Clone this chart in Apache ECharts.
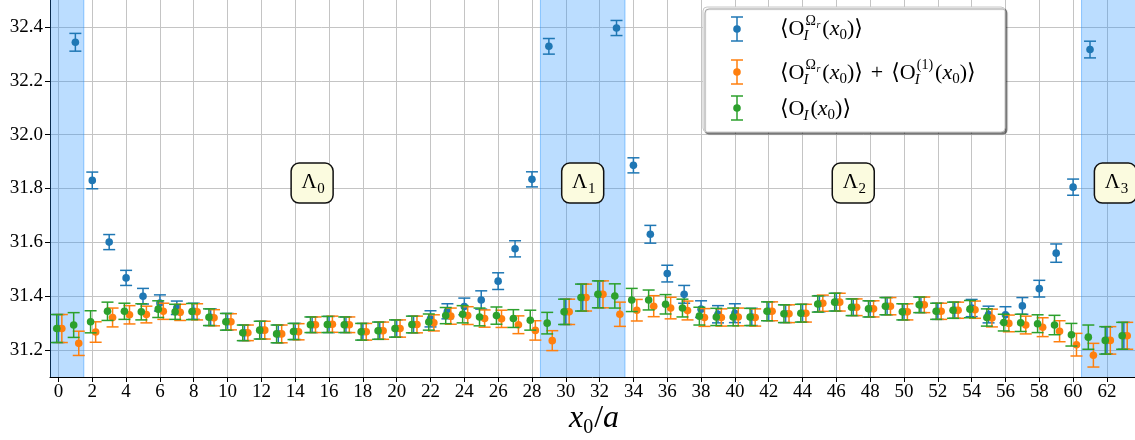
<!DOCTYPE html>
<html><head><meta charset="utf-8">
<script src="https://cdn.jsdelivr.net/npm/echarts@6/dist/echarts.min.js"></script>
<style>html,body{margin:0;padding:0;background:#fff}#c{width:1135px;height:440px}</style>
</head><body><div id="c"></div>
<script>
const xValues = [0,1,2,3,4,5,6,7,8,9,10,11,12,13,14,15,16,17,18,19,20,21,22,23,24,25,26,27,28,29,30,31,32,33,34,35,36,37,38,39,40,41,42,43,44,45,46,47,48,49,50,51,52,53,54,55,56,57,58,59,60,61,62,63];

const blueY = [31.28,32.343,31.83,31.601,31.468,31.40,31.375,31.357,31.344,31.322,
  31.305,31.264,31.274,31.26,31.269,31.294,31.295,31.294,31.268,31.272,
  31.28,31.295,31.316,31.344,31.362,31.386,31.456,31.576,31.834,32.328,
  31.342,31.395,31.407,32.396,31.886,31.63,31.484,31.407,31.352,31.333,
  31.337,31.323,31.344,31.335,31.337,31.372,31.378,31.359,31.353,31.363,
  31.342,31.368,31.344,31.348,31.356,31.332,31.331,31.364,31.428,31.56,
  31.805,32.316,31.236,31.253];
const blueErr = [0.052,0.033,0.031,0.028,0.028,0.029,0.03,0.025,0.03,0.031,
  0.031,0.029,0.033,0.033,0.03,0.029,0.03,0.029,0.031,0.032,
  0.032,0.031,0.03,0.028,0.031,0.034,0.031,0.03,0.028,0.029,
  0.047,0.05,0.05,0.028,0.028,0.033,0.031,0.033,0.031,0.032,
  0.035,0.032,0.035,0.033,0.033,0.03,0.033,0.031,0.03,0.032,
  0.03,0.029,0.03,0.03,0.032,0.031,0.03,0.031,0.031,0.034,
  0.03,0.031,0.05,0.05];

const orangeY = [31.28,31.225,31.267,31.321,31.331,31.332,31.344,31.34,31.342,31.32,
  31.305,31.264,31.274,31.26,31.268,31.294,31.296,31.294,31.268,31.272,
  31.28,31.295,31.301,31.326,31.328,31.317,31.316,31.294,31.273,31.235,
  31.342,31.395,31.407,31.333,31.348,31.363,31.356,31.347,31.321,31.321,
  31.323,31.321,31.344,31.335,31.337,31.374,31.378,31.359,31.353,31.363,
  31.342,31.368,31.344,31.348,31.35,31.319,31.299,31.293,31.285,31.27,
  31.22,31.181,31.236,31.253];
const orangeErr = [0.052,0.045,0.038,0.035,0.034,0.031,0.03,0.03,0.03,0.03,
  0.03,0.029,0.033,0.033,0.03,0.029,0.03,0.029,0.031,0.032,
  0.032,0.031,0.03,0.03,0.033,0.032,0.032,0.033,0.036,0.037,
  0.047,0.05,0.05,0.045,0.04,0.039,0.04,0.035,0.033,0.032,
  0.033,0.032,0.035,0.033,0.033,0.03,0.033,0.031,0.03,0.032,
  0.03,0.029,0.03,0.03,0.032,0.033,0.031,0.033,0.035,0.039,
  0.042,0.044,0.051,0.05];

const greenY = [31.28,31.293,31.305,31.344,31.344,31.342,31.352,31.342,31.343,31.322,
  31.305,31.264,31.274,31.26,31.269,31.294,31.295,31.294,31.268,31.272,
  31.28,31.295,31.304,31.328,31.333,31.323,31.328,31.317,31.311,31.30,
  31.342,31.395,31.407,31.401,31.386,31.386,31.37,31.356,31.326,31.323,
  31.323,31.323,31.344,31.335,31.337,31.371,31.378,31.359,31.353,31.363,
  31.342,31.368,31.344,31.348,31.352,31.321,31.302,31.301,31.298,31.293,
  31.257,31.248,31.236,31.253];
const greenErr = [0.052,0.046,0.041,0.034,0.03,0.03,0.031,0.028,0.03,0.031,
  0.031,0.029,0.033,0.033,0.03,0.029,0.03,0.029,0.031,0.032,
  0.032,0.031,0.03,0.03,0.032,0.033,0.032,0.033,0.037,0.04,
  0.047,0.05,0.05,0.045,0.043,0.037,0.036,0.033,0.033,0.032,
  0.033,0.032,0.035,0.033,0.033,0.03,0.033,0.031,0.03,0.032,
  0.03,0.029,0.03,0.03,0.032,0.032,0.031,0.032,0.033,0.036,
  0.042,0.045,0.051,0.05];

const xTickValues = [0,2,4,6,8,10,12,14,16,18,20,22,24,26,28,30,32,34,36,38,40,42,44,46,48,50,52,54,56,58,60,62];
const yTickValues = [31.2,31.4,31.6,31.8,32.0,32.2,32.4];
const regionStart = [-1.5, 28.5, 60.5];
const regionEnd = [1.5, 33.5, 64.5];
const regionLabelX = [15, 31, 47, 62.5];
const regionLabelSub = ['0','1','2','3'];
const regionLabelY = 31.82;

const SERIF = '"Liberation Serif", "DejaVu Serif", serif';
const COLORS = {blue:'#1f77b4', orange:'#ff7f0e', green:'#2ca02c'};

const chart = echarts.init(document.getElementById('c'), null, {renderer:'canvas'});

function errSeries(name, ys, errs, color, dx, z){
  return {
    type:'custom', name, z, clip:true,
    data: xValues.map((x,i)=>[x, ys[i], errs[i]]),
    encode:{x:0, y:1},
    renderItem(params, api){
      const x = api.value(0)+dx, y = api.value(1), e = api.value(2);
      const p = api.coord([x,y]), hi = api.coord([x,y+e]), lo = api.coord([x,y-e]);
      const cw = 6;
      const ls = {stroke:color, lineWidth:1.5};
      return {type:'group', children:[
        {type:'line', shape:{x1:p[0],y1:hi[1],x2:p[0],y2:lo[1]}, style:ls},
        {type:'line', shape:{x1:p[0]-cw,y1:hi[1],x2:p[0]+cw,y2:hi[1]}, style:ls},
        {type:'line', shape:{x1:p[0]-cw,y1:lo[1],x2:p[0]+cw,y2:lo[1]}, style:ls},
        {type:'circle', shape:{cx:p[0],cy:p[1],r:3.8}, style:{fill:color}}
      ]};
    }
  };
}

const regionSeries = {
  type:'custom', name:'regions', z:1, clip:true, silent:true,
  data: regionStart.map((s,i)=>[s, regionEnd[i]]),
  encode:{x:[0,1]},
  renderItem(params, api){
    const a = api.coord([api.value(0), 31.1]);
    const b = api.coord([api.value(1), 32.5]);
    const edge = {stroke:'rgba(30,144,255,0.45)', lineWidth:1};
    return {type:'group', children:[
      {type:'rect', shape:{x:a[0], y:b[1], width:b[0]-a[0], height:a[1]-b[1]}, style:{fill:'rgba(30,144,255,0.3)'}},
      {type:'line', shape:{x1:a[0],y1:b[1],x2:a[0],y2:a[1]}, style:edge},
      {type:'line', shape:{x1:b[0],y1:b[1],x2:b[0],y2:a[1]}, style:edge}
    ]};
  }
};

const labelSeries = {
  type:'custom', name:'labels', z:10, clip:false, silent:true,
  data: regionLabelX.map((x,i)=>[x, regionLabelY, i]),
  encode:{x:0, y:1},
  renderItem(params, api){
    const p = api.coord([api.value(0), api.value(1)]);
    const i = api.value(2);
    return {type:'group', children:[
      {type:'rect', shape:{x:p[0]-21, y:p[1]-20, width:42, height:40, r:8},
        style:{fill:'#fbfbdf', stroke:'#111', lineWidth:1.5}},
      {type:'text', x:p[0]-3, y:p[1]-1, style:{text:'Λ', font:'21px '+SERIF, fill:'#000', align:'center', verticalAlign:'middle'}},
      {type:'text', x:p[0]+9, y:p[1]+6, style:{text:regionLabelSub[i], font:'15px '+SERIF, fill:'#000', align:'center', verticalAlign:'middle'}}
    ]};
  }
};

// ---- math-like text helper for legend / axis title
const mctx = document.createElement('canvas').getContext('2d');
function fontStr(s,i){ return (i?'italic ':'')+s+'px '+SERIF; }
function tw(t,s,i){ mctx.font = fontStr(s,i); return mctx.measureText(t).width; }
function txt(t,s,i,x,base){
  return {type:'text', x:x, y:base-0.33*s, z:100,
    style:{text:t, font:fontStr(s,i), fill:'#000', align:'left', verticalAlign:'middle'}};
}
function rowWidth(items){
  let w=0;
  for(const it of items){
    if(it.stack){ let m=0; for(const s of it.stack) m=Math.max(m,(s.dx||0)+tw(s.t,s.s,s.i)); w+=m+(it.after||0); }
    else w+=(it.dx||0)+tw(it.t,it.s,it.i)+(it.after||0);
  }
  return w;
}
function mathRow(items, x, base){
  const els=[]; let cx=x;
  for(const it of items){
    if(it.stack){
      let m=0;
      for(const s of it.stack){ els.push(txt(s.t,s.s,s.i,cx+(s.dx||0),base+(s.dy||0))); m=Math.max(m,(s.dx||0)+tw(s.t,s.s,s.i)); }
      cx+=m+(it.after||0);
    } else {
      cx+=(it.dx||0);
      els.push(txt(it.t,it.s,it.i,cx,base+(it.dy||0)));
      cx+=tw(it.t,it.s,it.i)+(it.after||0);
    }
  }
  return els;
}
const OOmega = [{t:'⟨O',s:22},{stack:[{t:'Ω',s:14,dy:-10,dx:1},{t:'r',s:10,i:1,dy:-7,dx:12},{t:'I',s:15,i:1,dy:5,dx:-1}],after:2}];
const Xarg = [{t:'(',s:22},{t:'x',s:22,i:1},{t:'0',s:15,dy:4},{t:')⟩',s:22}];
const row1 = OOmega.concat(Xarg);
const row2 = OOmega.concat(Xarg, [{t:'+',s:22,dx:8,after:8},{t:'⟨O',s:22},{stack:[{t:'(1)',s:14,dy:-10,dx:1},{t:'I',s:15,i:1,dy:5,dx:-1}],after:2}], Xarg);
const row3 = [{t:'⟨O',s:22},{t:'I',s:15,i:1,dy:5,dx:-1,after:2}].concat(Xarg);

function legendIcon(x, y, color){
  const ls={stroke:color, lineWidth:1.5};
  return [
    {type:'line', z:100, shape:{x1:x,y1:y-12,x2:x,y2:y+12}, style:ls},
    {type:'line', z:100, shape:{x1:x-6,y1:y-12,x2:x+6,y2:y-12}, style:ls},
    {type:'line', z:100, shape:{x1:x-6,y1:y+12,x2:x+6,y2:y+12}, style:ls},
    {type:'circle', z:100, shape:{cx:x,cy:y,r:3.8}, style:{fill:color}}
  ];
}

const axisName = [{t:'x',s:32,i:1},{t:'0',s:20,dy:5},{t:'/',s:32,dx:1},{t:'a',s:32,i:1}];
const anW = rowWidth(axisName);

const graphics = [
  {type:'rect', z:99, shape:{x:703, y:7, width:302, height:125, r:4},
   style:{fill:'#fff', stroke:'#c8c8c8', lineWidth:1, shadowColor:'rgba(0,0,0,0.45)', shadowOffsetX:2, shadowOffsetY:2, shadowBlur:1}},
  ...legendIcon(737, 29, COLORS.blue),
  ...legendIcon(737, 72, COLORS.orange),
  ...legendIcon(737, 108, COLORS.green),
  ...mathRow(row1, 780, 36),
  ...mathRow(row2, 780, 80),
  ...mathRow(row3, 780, 116),
  ...mathRow(axisName, 594 - anW/2, 429)
];

chart.setOption({
  animation:false,
  backgroundColor:'#fff',
  grid:{left:50, right:0, top:0, bottom:63, containLabel:false, outerBoundsMode:'none'},
  xAxis:{
    type:'value', min:-0.5, max:63.66,
    axisLine:{show:true, onZero:false, lineStyle:{color:'#000', width:1}},
    axisTick:{show:true, customValues:xTickValues, length:5, lineStyle:{color:'#000'}},
    axisLabel:{customValues:xTickValues, fontFamily:SERIF, fontSize:19, color:'#000', margin:6},
    splitLine:{show:true, lineStyle:{color:'#c4c4c4', width:1}}
  },
  yAxis:{
    type:'value', min:31.1, max:32.5,
    axisLine:{show:true, onZero:false, lineStyle:{color:'#000', width:1}},
    axisTick:{show:true, customValues:yTickValues, length:5, lineStyle:{color:'#000'}},
    axisLabel:{customValues:yTickValues, fontFamily:SERIF, fontSize:19, color:'#000', margin:7,
      formatter:v=>v.toFixed(1)},
    splitLine:{show:true, lineStyle:{color:'#c4c4c4', width:1}}
  },
  series:[
    regionSeries,
    errSeries('blue', blueY, blueErr, COLORS.blue, 0, 3),
    errSeries('orange', orangeY, orangeErr, COLORS.orange, 0.2, 4),
    errSeries('green', greenY, greenErr, COLORS.green, -0.1, 5),
    labelSeries
  ],
  graphic: graphics
});
</script></body></html>
